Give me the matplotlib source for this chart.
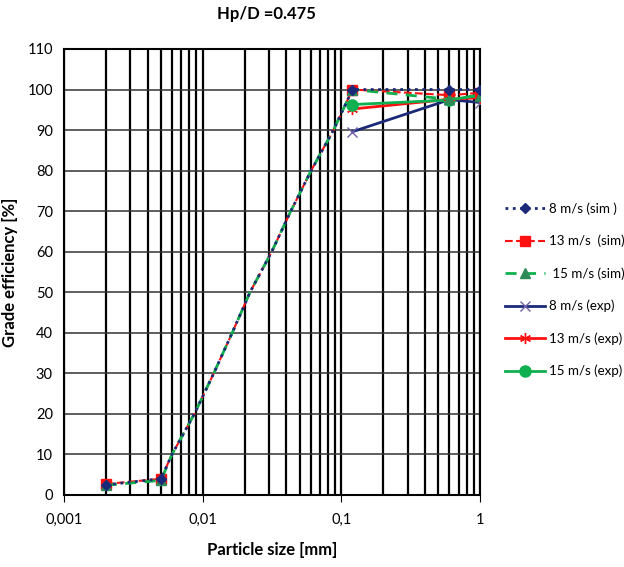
import numpy as np
import matplotlib.pyplot as plt
from matplotlib.ticker import FixedLocator, LogLocator, NullFormatter

plt.rcParams['font.family'] = ['Lato', 'DejaVu Sans']

# simulated curves (shared shape below 0.12 mm)
x_sim = [0.002, 0.005, 0.006, 0.0087, 0.012, 0.0163, 0.0219, 0.0314, 0.0431,
         0.0604, 0.0875, 0.12, 0.6, 1.0]
y_sim8 = [2.5, 4.0, 10, 20, 30, 40, 50, 60, 70, 80, 90, 100, 100, 100]
y_sim13 = [2.7, 4.0, 10, 20, 30, 40, 50, 60, 70, 80, 90, 100, 98.6, 99.2]
y_sim15 = [2.4, 3.6, 10, 20, 30, 40, 50, 60, 70, 80, 90, 100, 97.6, 98.5]
sim_marks = [0, 1, 11, 12, 13]

# experiments
x_exp = [0.12, 0.6, 1.0]
y_exp8 = [89.6, 97.5, 96.8]
y_exp13 = [95.2, 97.6, 98.0]
y_exp15 = [96.3, 97.4, 98.7]

labels = ['8 m/s (sim )', '13 m/s  (sim)', ' 15 m/s (sim)',
          '8 m/s (exp)', '13 m/s (exp)', '15 m/s (exp)']

navy = '#1b2a78'
red = '#ff1010'
green = '#10b050'

fig = plt.figure(figsize=(6.24, 5.67), dpi=100)
ax = fig.add_axes([0.1026, 0.127, 0.667, 0.7866])

ax.plot(x_sim, y_sim8, ':', color=navy, lw=2, marker='D', ms=5,
        markevery=sim_marks, label=labels[0], zorder=5)
ax.plot(x_sim, y_sim13, '--', color=red, lw=1.5, marker='s', ms=7,
        markevery=sim_marks, label=labels[1], zorder=4)
ax.plot(x_sim, y_sim15, '--', color=green, lw=2, marker='^', ms=7,
        mfc='#2e8b57', mec='#2e8b57', markevery=sim_marks, label=labels[2],
        dashes=(4, 3), zorder=4)
ax.plot(x_exp, y_exp8, '-', color=navy, lw=2, marker='x', ms=7,
        mec='#7060a8', label=labels[3], zorder=3)
ax.plot(x_exp, y_exp13, '-', color=red, lw=2, marker=(6, 2, 0), ms=8,
        mec=red, label=labels[4], zorder=3)
ax.plot(x_exp, y_exp15, '-', color=green, lw=2, marker='o', ms=8,
        label=labels[5], zorder=3)

ax.set_xscale('log')
ax.set_xlim(0.001, 1)
ax.set_ylim(0, 110)
ax.set_yticks(np.arange(0, 111, 10))
ax.xaxis.set_major_locator(FixedLocator([0.001, 0.01, 0.1, 1]))
ax.set_xticklabels(['0,001', '0,01', '0,1', '1'])
ax.xaxis.set_minor_locator(LogLocator(base=10, subs=np.arange(2, 10)))
ax.xaxis.set_minor_formatter(NullFormatter())

ax.grid(True, which='both', axis='x', color='black', lw=1.6)
ax.grid(True, which='major', axis='y', color='#333333', lw=1.1)
ax.set_axisbelow(True)
for s in ax.spines.values():
    s.set_color('black')
    s.set_linewidth(1.5)

ax.tick_params(axis='both', which='major', labelsize=10.5, length=5, color='black')
ax.tick_params(axis='x', which='minor', length=0)
ax.tick_params(axis='x', which='major', pad=8)
ax.tick_params(axis='y', length=0, pad=8)

ax.set_xlabel('Particle size [mm]', fontsize=12, fontweight='bold')
ax.set_ylabel('Grade efficiency [%]', fontsize=12, fontweight='bold')
ax.xaxis.set_label_coords(0.5, -0.105)
ax.yaxis.set_label_coords(-0.11, 0.5)
fig.text(0.427, 0.975, 'Hp/D =0.475', fontsize=12, fontweight='bold',
         ha='center', va='center')

ax.legend(loc='center left', bbox_to_anchor=(1.06, 0.46), frameon=False,
          fontsize=9.6, handlelength=3.0, labelspacing=1.5, handletextpad=0.25,
          borderaxespad=0, borderpad=0)

fig.savefig('out.png', dpi=100)
